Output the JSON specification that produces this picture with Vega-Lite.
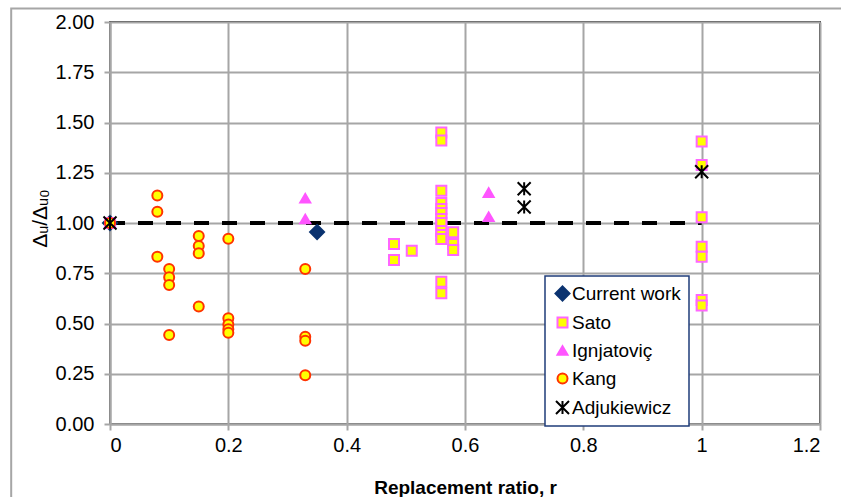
{
  "$schema": "https://vega.github.io/schema/vega-lite/v6.json",
  "width": 710,
  "height": 402,
  "padding": {"left": 110, "top": 22, "right": 21, "bottom": 73},
  "autosize": {"type": "none"},
  "background": "white",
  "config": {
    "font": "Liberation Sans",
    "view": {"stroke": "#404040", "strokeWidth": 2},
    "axis": {
      "labelFont": "Liberation Sans",
      "labelColor": "#000000",
      "gridColor": "#a6a6a6",
      "gridWidth": 2,
      "gridOpacity": 1,
      "domainColor": "#a6a6a6",
      "domainWidth": 2,
      "tickColor": "#a6a6a6",
      "tickWidth": 2,
      "tickSize": 6,
      "titleColor": "#000000",
      "titleFont": "Liberation Sans"
    },
    "legend": {
      "orient": "none",
      "legendX": 435,
      "legendY": 254,
      "fillColor": "white",
      "strokeColor": "#1f3d7a",
      "strokeWidth": 1.5,
      "padding": 8,
      "labelFont": "Liberation Sans",
      "labelFontSize": 19,
      "labelColor": "#000000",
      "labelOffset": 0,
      "rowPadding": 8,
      "symbolSize": 100,
      "symbolStrokeWidth": 2
    }
  },
  "layer": [
    {
      "data": {"values": [{"x0": -0.167, "x1": 1.25, "y0": -0.4, "y1": 2.067}]},
      "mark": {"type": "rect", "fill": null, "stroke": "#a6a6a6", "strokeWidth": 2, "clip": false},
      "encoding": {
        "x": {"field": "x0", "type": "quantitative", "scale": {"domain": [0, 1.2]}},
        "x2": {"field": "x1"},
        "y": {"field": "y0", "type": "quantitative", "scale": {"domain": [0, 2]}},
        "y2": {"field": "y1"}
      }
    },
    {
      "data": {"values": [{"r": 0, "ratio": 1}, {"r": 1, "ratio": 1}]},
      "mark": {"type": "line", "color": "#000000", "strokeWidth": 4, "strokeDash": [15, 13], "strokeCap": "butt"},
      "encoding": {
        "x": {"field": "r", "type": "quantitative"},
        "y": {"field": "ratio", "type": "quantitative"}
      }
    },
    {
      "data": {
        "values": [
          {"series": "Current work", "r": 0, "ratio": 1},
          {"series": "Current work", "r": 0.35, "ratio": 0.955},
          {"series": "Sato", "r": 0, "ratio": 1},
          {"series": "Sato", "r": 0.48, "ratio": 0.896},
          {"series": "Sato", "r": 0.48, "ratio": 0.816},
          {"series": "Sato", "r": 0.51, "ratio": 0.862},
          {"series": "Sato", "r": 0.56, "ratio": 1.45},
          {"series": "Sato", "r": 0.56, "ratio": 1.41},
          {"series": "Sato", "r": 0.56, "ratio": 1.16},
          {"series": "Sato", "r": 0.56, "ratio": 1.1},
          {"series": "Sato", "r": 0.56, "ratio": 1.07},
          {"series": "Sato", "r": 0.56, "ratio": 1.05},
          {"series": "Sato", "r": 0.56, "ratio": 1.02},
          {"series": "Sato", "r": 0.56, "ratio": 1.0},
          {"series": "Sato", "r": 0.56, "ratio": 0.96},
          {"series": "Sato", "r": 0.56, "ratio": 0.94},
          {"series": "Sato", "r": 0.56, "ratio": 0.92},
          {"series": "Sato", "r": 0.56, "ratio": 0.708},
          {"series": "Sato", "r": 0.56, "ratio": 0.65},
          {"series": "Sato", "r": 0.58, "ratio": 0.954},
          {"series": "Sato", "r": 0.58, "ratio": 0.896},
          {"series": "Sato", "r": 0.58, "ratio": 0.866},
          {"series": "Sato", "r": 1, "ratio": 1.405},
          {"series": "Sato", "r": 1, "ratio": 1.289},
          {"series": "Sato", "r": 1, "ratio": 1.028},
          {"series": "Sato", "r": 1, "ratio": 0.882},
          {"series": "Sato", "r": 1, "ratio": 0.832},
          {"series": "Sato", "r": 1, "ratio": 0.617},
          {"series": "Sato", "r": 1, "ratio": 0.59},
          {"series": "Ignjatoviç", "r": 0, "ratio": 1},
          {"series": "Ignjatoviç", "r": 0.33, "ratio": 1.123},
          {"series": "Ignjatoviç", "r": 0.33, "ratio": 1.02},
          {"series": "Ignjatoviç", "r": 0.64, "ratio": 1.151},
          {"series": "Ignjatoviç", "r": 0.64, "ratio": 1.031},
          {"series": "Kang", "r": 0, "ratio": 1},
          {"series": "Kang", "r": 0.08, "ratio": 1.137},
          {"series": "Kang", "r": 0.08, "ratio": 1.056},
          {"series": "Kang", "r": 0.08, "ratio": 0.832},
          {"series": "Kang", "r": 0.1, "ratio": 0.771},
          {"series": "Kang", "r": 0.1, "ratio": 0.73},
          {"series": "Kang", "r": 0.1, "ratio": 0.692},
          {"series": "Kang", "r": 0.1, "ratio": 0.443},
          {"series": "Kang", "r": 0.15, "ratio": 0.935},
          {"series": "Kang", "r": 0.15, "ratio": 0.886},
          {"series": "Kang", "r": 0.15, "ratio": 0.849},
          {"series": "Kang", "r": 0.15, "ratio": 0.584},
          {"series": "Kang", "r": 0.2, "ratio": 0.922},
          {"series": "Kang", "r": 0.2, "ratio": 0.526},
          {"series": "Kang", "r": 0.2, "ratio": 0.495},
          {"series": "Kang", "r": 0.2, "ratio": 0.472},
          {"series": "Kang", "r": 0.2, "ratio": 0.454},
          {"series": "Kang", "r": 0.33, "ratio": 0.771},
          {"series": "Kang", "r": 0.33, "ratio": 0.434},
          {"series": "Kang", "r": 0.33, "ratio": 0.414},
          {"series": "Kang", "r": 0.33, "ratio": 0.242},
          {"series": "Adjukiewicz", "r": 0, "ratio": 1},
          {"series": "Adjukiewicz", "r": 0.7, "ratio": 1.17},
          {"series": "Adjukiewicz", "r": 0.7, "ratio": 1.08},
          {"series": "Adjukiewicz", "r": 1, "ratio": 1.255}
        ]
      },
      "mark": {"type": "point", "filled": false, "opacity": 1, "strokeWidth": 2, "size": 100},
      "encoding": {
        "x": {
          "field": "r",
          "type": "quantitative",
          "scale": {"domain": [0, 1.2], "nice": false},
          "axis": {
            "values": [0, 0.2, 0.4, 0.6, 0.8, 1, 1.2],
            "format": "~g",
            "labelFontSize": 20,
            "labelPadding": 5,
            "title": "Replacement ratio, r",
            "titleFontSize": 19,
            "titleFontWeight": "bold",
            "titleY": 69,
            "titleBaseline": "alphabetic"
          }
        },
        "y": {
          "field": "ratio",
          "type": "quantitative",
          "scale": {"domain": [0, 2], "nice": false},
          "axis": {
            "values": [0, 0.25, 0.5, 0.75, 1, 1.25, 1.5, 1.75, 2],
            "format": ".2f",
            "labelFontSize": 20,
            "labelPadding": 10,
            "title": "Δᵤ/Δᵤ₀",
            "titleFontSize": 21,
            "titleFontWeight": "normal",
            "titleAngle": -90,
            "titleX": -70,
            "titleY": 196,
            "titleAlign": "center",
            "titleBaseline": "middle"
          }
        },
        "shape": {
          "field": "series",
          "type": "nominal",
          "title": null,
          "scale": {
            "domain": ["Current work", "Sato", "Ignjatoviç", "Kang", "Adjukiewicz"],
            "range": ["M0,-1.4L1.4,0L0,1.4L-1.4,0Z", "square", "triangle-up", "circle", "M-1.3,-1.3L1.3,1.3M1.3,-1.3L-1.3,1.3M0,-1.3L0,1.3"]
          }
        },
        "fill": {
          "field": "series",
          "type": "nominal",
          "title": null,
          "scale": {
            "domain": ["Current work", "Sato", "Ignjatoviç", "Kang", "Adjukiewicz"],
            "range": ["#0b3370", "#ffff00", "#ff55ff", "#ffff00", "transparent"]
          }
        },
        "stroke": {
          "field": "series",
          "type": "nominal",
          "title": null,
          "scale": {
            "domain": ["Current work", "Sato", "Ignjatoviç", "Kang", "Adjukiewicz"],
            "range": ["#0b3370", "#ff66ff", "#ff55ff", "#ff3300", "#000000"]
          }
        }
      }
    }
  ]
}
